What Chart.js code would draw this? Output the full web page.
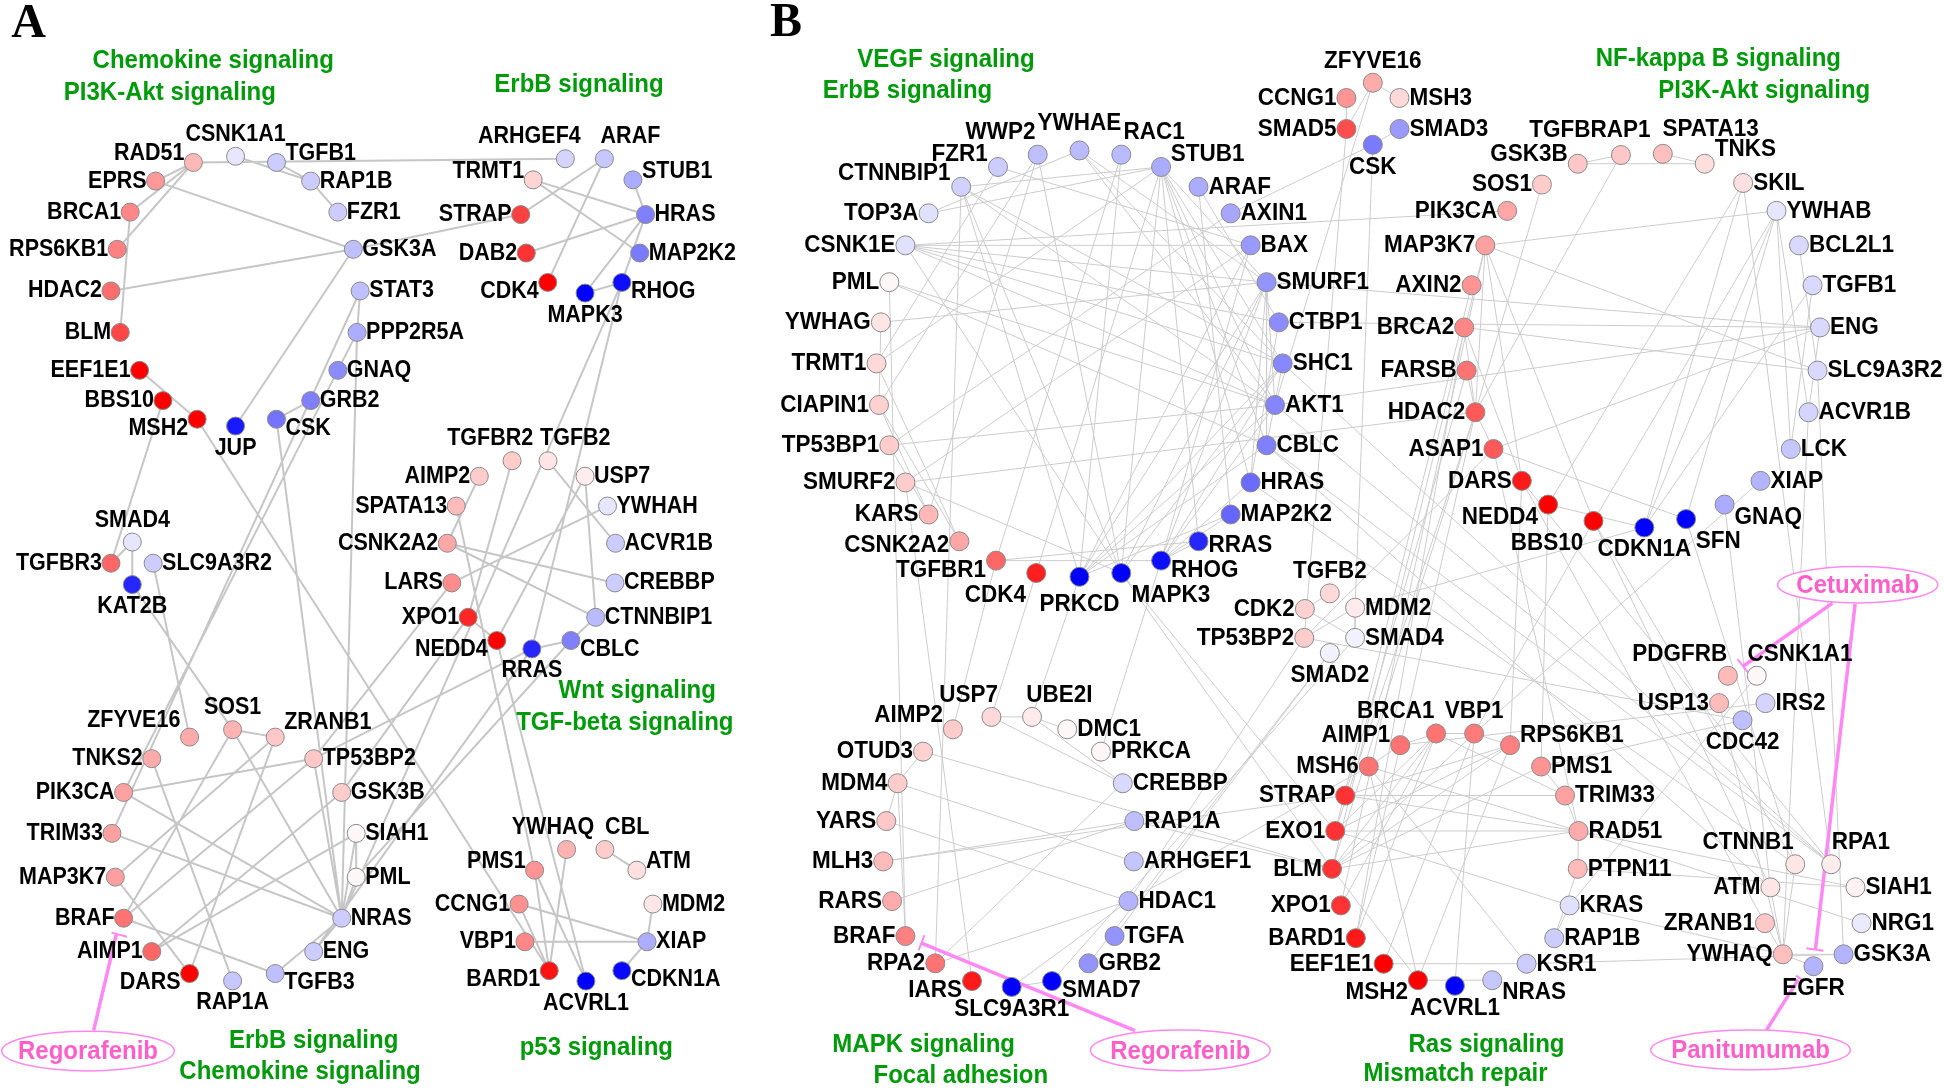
<!DOCTYPE html>
<html>
<head>
<meta charset="utf-8">
<title>Networks A and B</title>
<script src="https://cdn.jsdelivr.net/npm/chart.js@4/dist/chart.umd.min.js"></script>
<style>
	html, body { margin: 0; padding: 0; background: #fff; }
	#chart { display: block; }
</style>
</head>
<body>
<canvas id="chart" width="1944" height="1089"></canvas>
<script>
// Panel A: node names, positions, tone (-1 blue .. 1 red), label side.
var aNames = [
	'RAD51', 'CSNK1A1', 'TGFB1', 'EPRS', 'RAP1B', 'BRCA1', 'FZR1', 'RPS6KB1', 'GSK3A', 'HDAC2',
	'STAT3', 'BLM', 'PPP2R5A', 'EEF1E1', 'GNAQ', 'BBS10', 'GRB2', 'MSH2', 'JUP', 'CSK',
	'ARHGEF4', 'ARAF', 'TRMT1', 'STUB1', 'STRAP', 'HRAS', 'DAB2', 'MAP2K2', 'CDK4', 'RHOG',
	'MAPK3', 'TGFBR2', 'TGFB2', 'AIMP2', 'USP7', 'SPATA13', 'YWHAH', 'CSNK2A2', 'ACVR1B', 'SMAD4',
	'TGFBR3', 'SLC9A3R2', 'KAT2B', 'LARS', 'CREBBP', 'XPO1', 'CTNNBIP1', 'NEDD4', 'CBLC', 'RRAS',
	'ZFYVE16', 'SOS1', 'ZRANB1', 'TNKS2', 'TP53BP2', 'PIK3CA', 'GSK3B', 'TRIM33', 'SIAH1', 'MAP3K7',
	'PML', 'BRAF', 'NRAS', 'AIMP1', 'ENG', 'DARS', 'RAP1A', 'TGFB3', 'PMS1', 'YWHAQ',
	'CBL', 'ATM', 'CCNG1', 'MDM2', 'VBP1', 'XIAP', 'BARD1', 'CDKN1A', 'ACVRL1'
];
var aX = [
	156, 190, 223, 125.5, 250.6, 105, 272.5, 94.6, 285, 89.5,
	290.5, 97, 288, 112.6, 272.5, 131.4, 250.6, 159, 190, 223,
	456, 487.5, 430, 510.5, 420, 520.7, 424.5, 516, 441.8, 501.6,
	471.9, 413, 442, 386.6, 471.9, 368, 490, 360.8, 496.5, 106.7,
	89.5, 123.5, 106.7, 364.4, 496, 377.6, 480.5, 400.7, 460.5, 429,
	152.9, 187.6, 222, 122.4, 253, 99.7, 275.6, 90.3, 287.3, 93,
	287.3, 99.7, 275.6, 122.4, 253, 152.9, 187.6, 222, 431.2, 457,
	487.9, 513.7, 418.7, 526.6, 423.4, 521.9, 443, 501.6, 472.6
];
var aY = [
	131, 126, 131, 146, 146, 171, 171, 201, 201, 234.6,
	234.6, 268, 268, 298.6, 298.6, 323, 323, 338, 343.5, 338,
	128, 128, 145, 145, 173, 173, 204, 204, 227.7, 227.7,
	236.3, 371.5, 371.5, 384, 384, 408, 408, 438, 438, 437,
	454.1, 454.1, 471.3, 470, 470, 497.7, 497.7, 516.4, 516.4, 523.2,
	594.3, 588.3, 594.3, 611.7, 611.7, 638.9, 638.9, 671.9, 671.9, 707.2,
	707.2, 740.3, 740.3, 767.2, 767.2, 784.9, 790.8, 784.9, 701.6, 684.9,
	684.9, 701.6, 728.9, 728.9, 759.3, 759.3, 782.6, 782.6, 791
];
var aTone = [
	0.28, -0.1, -0.2, 0.4, -0.2, 0.47, -0.2, 0.5, -0.25, 0.57,
	-0.25, 0.72, -0.32, 1, -0.45, 1, -0.5, 1, -0.9, -0.55,
	-0.17, -0.22, 0.17, -0.33, 0.75, -0.5, 0.8, -0.52, 1, -0.95,
	-1, 0.2, 0.1, 0.2, 0.07, 0.27, -0.1, 0.35, -0.2, -0.1,
	0.6, -0.2, -0.85, 0.45, -0.2, 0.85, -0.27, 1, -0.5, -0.85,
	0.33, 0.3, 0.22, 0.33, 0.22, 0.37, 0.2, 0.37, 0.03, 0.38,
	0.03, 0.55, -0.2, 0.6, -0.2, 1, -0.22, -0.25, 0.42, 0.3,
	0.2, 0.12, 0.43, 0.1, 0.47, -0.32, 0.93, -0.97, -1
];
var aSide = [
	'l', 't', 'r', 'l', 'r', 'l', 'r', 'l', 'r', 'l',
	'r', 'l', 'r', 'l', 'r', 'l', 'r', 'l', 'b', 'r',
	't', 't', 'l', 'r', 'l', 'r', 'l', 'r', 'l', 'r',
	'b', 't', 't', 'l', 'r', 'l', 'r', 'l', 'r', 't',
	'l', 'r', 'b', 'l', 'r', 'l', 'r', 'l', 'r', 'b',
	't', 't', 'r', 'l', 'r', 'l', 'r', 'l', 'r', 'l',
	'r', 'l', 'r', 'l', 'r', 'l', 'b', 'r', 'l', 't',
	't', 'r', 'l', 'r', 'l', 'r', 'l', 'r', 'b'
];
var aNudge = {
	RAD51: [0, -7], TGFB1: [0, -7], MSH2: [0, 7.5], CSK: [0, 7.5], ARHGEF4: [-29, 0], ARAF: [21, 0],
	TRMT1: [0, -7], STUB1: [0, -7], CDK4: [0, 7], RHOG: [0, 7], TGFBR2: [-17.6, 0], TGFB2: [22, 0],
	NEDD4: [0, 7.5], CBLC: [0, 7.5], ZFYVE16: [-45, 4], ZRANB1: [0, -11.5], DARS: [0, 7], TGFB3: [0, 7],
	PMS1: [0, -7], YWHAQ: [-11, 0], CBL: [18, 0], ATM: [0, -7], BARD1: [0, 7.5], CDKN1A: [0, 7.5]
};
var aEdges = [
	'RAD51|ARHGEF4', 'CSNK1A1|RAP1B', 'TGFB1|RAP1B', 'RAP1B|FZR1', 'RAD51|EPRS', 'RAD51|BRCA1', 'RAD51|RPS6KB1', 'BRCA1|BLM',
	'EPRS|GSK3A', 'HDAC2|GSK3A', 'STRAP|GSK3A', 'GSK3A|JUP', 'TRMT1|HRAS', 'TRMT1|MAP2K2', 'DAB2|HRAS', 'STRAP|ARAF',
	'ARAF|CDK4', 'STUB1|HRAS', 'HRAS|MAPK3', 'HRAS|RHOG', 'MAPK3|RHOG', 'RHOG|NRAS', 'RHOG|RRAS', 'STAT3|TRIM33',
	'PPP2R5A|PIK3CA', 'STAT3|PPP2R5A', 'PPP2R5A|NRAS', 'GRB2|CSK', 'CSK|NRAS', 'EEF1E1|MSH2', 'MSH2|BARD1', 'BBS10|TGFBR3',
	'SMAD4|KAT2B', 'SMAD4|TGFBR3', 'SLC9A3R2|ZFYVE16', 'KAT2B|SOS1', 'SOS1|ZRANB1', 'SOS1|NRAS', 'SOS1|BRAF', 'ZRANB1|MAP3K7',
	'ZRANB1|DARS', 'TNKS2|RAP1A', 'PIK3CA|TP53BP2', 'PIK3CA|NRAS', 'TRIM33|NRAS', 'MAP3K7|DARS', 'BRAF|TGFB3', 'TP53BP2|BRAF',
	'TP53BP2|NRAS', 'GSK3B|AIMP1', 'SIAH1|AIMP1', 'SIAH1|NRAS', 'SIAH1|PML', 'NRAS|ENG', 'NRAS|TGFB3', 'PML|NRAS',
	'SPATA13|PMS1', 'AIMP2|CSNK2A2', 'CSNK2A2|CREBBP', 'CSNK2A2|CTNNBIP1', 'LARS|YWHAH', 'XPO1|NEDD4', 'RRAS|CBLC', 'CBLC|CTNNBIP1',
	'CTNNBIP1|USP7', 'TGFB2|ACVR1B', 'TGFBR2|XPO1', 'NEDD4|USP7', 'CBLC|PML', 'RRAS|ENG', 'RRAS|TP53BP2', 'XPO1|GSK3B',
	'LARS|TP53BP2', 'PMS1|BARD1', 'YWHAQ|BARD1', 'PMS1|ACVRL1', 'CCNG1|XIAP', 'CCNG1|BARD1', 'VBP1|XIAP', 'CBL|ATM',
	'XIAP|MDM2', 'XIAP|CDKN1A', 'NEDD4|ACVRL1'
];

// Panel B, same layout as panel A.
var bNames = [
	'CCNG1', 'SMAD5', 'WWP2', 'YWHAE', 'RAC1', 'FZR1', 'STUB1', 'CTNNBIP1', 'ARAF', 'TOP3A',
	'AXIN1', 'CSNK1E', 'BAX', 'PML', 'SMURF1', 'YWHAG', 'CTBP1', 'TRMT1', 'SHC1', 'CIAPIN1',
	'AKT1', 'TP53BP1', 'CBLC', 'SMURF2', 'HRAS', 'KARS', 'MAP2K2', 'CSNK2A2', 'RRAS', 'TGFBR1',
	'RHOG', 'CDK4', 'MAPK3', 'PRKCD', 'TGFB2', 'ZFYVE16', 'MSH3', 'SMAD3', 'CSK', 'GSK3B',
	'TGFBRAP1', 'SPATA13', 'TNKS', 'SOS1', 'SKIL', 'PIK3CA', 'YWHAB', 'MAP3K7', 'BCL2L1', 'AXIN2',
	'TGFB1', 'BRCA2', 'ENG', 'FARSB', 'SLC9A3R2', 'HDAC2', 'ACVR1B', 'ASAP1', 'LCK', 'DARS',
	'XIAP', 'NEDD4', 'GNAQ', 'BBS10', 'CDKN1A', 'SFN', 'CDK2', 'MDM2', 'TP53BP2', 'SMAD4',
	'SMAD2', 'USP7', 'UBE2I', 'AIMP2', 'DMC1', 'OTUD3', 'PRKCA', 'MDM4', 'CREBBP', 'YARS',
	'RAP1A', 'MLH3', 'ARHGEF1', 'RARS', 'HDAC1', 'BRAF', 'TGFA', 'RPA2', 'GRB2', 'IARS',
	'SMAD7', 'SLC9A3R1', 'STRAP', 'EXO1', 'BLM', 'XPO1', 'BARD1', 'EEF1E1', 'MSH2', 'ACVRL1',
	'NRAS', 'KSR1', 'RAP1B', 'KRAS', 'PTPN11', 'RAD51', 'TRIM33', 'PMS1', 'RPS6KB1', 'VBP1',
	'BRCA1', 'AIMP1', 'MSH6', 'PDGFRB', 'CSNK1A1', 'USP13', 'IRS2', 'CDC42', 'CTNNB1', 'RPA1',
	'ATM', 'SIAH1', 'ZRANB1', 'NRG1', 'YWHAQ', 'GSK3A', 'EGFR'
];
var bX = [
	1086, 1086, 837, 870.7, 904.4, 805, 936.5, 775.3, 966.7, 749,
	992.6, 730.3, 1008.7, 717.3, 1021.6, 710.5, 1031.5, 707, 1034.6, 709,
	1028.4, 717.3, 1021.6, 730.3, 1008.7, 749, 992.6, 773.8, 966.7, 803.4,
	936.5, 835.8, 904.4, 870.7, 1072.6, 1107.3, 1128.8, 1128.8, 1107.3, 1272.6,
	1307.4, 1341.2, 1375, 1243.7, 1406, 1215.7, 1432.9, 1198, 1451, 1187,
	1462, 1181, 1468, 1183, 1466, 1190, 1458.7, 1204.6, 1444.4, 1227.5,
	1420, 1248.7, 1391, 1285.3, 1326.3, 1360, 1052.5, 1093, 1052, 1093,
	1072.6, 799.7, 832.4, 768.6, 860.8, 744.5, 888, 724, 905.6, 714.9,
	914.9, 712.4, 914.5, 719.5, 910.2, 730.3, 899, 754.4, 878, 784,
	848.5, 816, 1085, 1077, 1074.4, 1081.5, 1093.6, 1116, 1143.7, 1173.5,
	1203.6, 1231.3, 1253.6, 1266, 1272.6, 1273.2, 1262.3, 1243, 1218, 1189,
	1158.3, 1129.4, 1104, 1393.7, 1417, 1386.6, 1424, 1405.5, 1448, 1477,
	1428, 1496.6, 1423.6, 1501.5, 1438, 1487, 1462.7
];
var bY = [
	79, 104, 124.7, 121.3, 124.7, 134.6, 134.6, 150.6, 150.6, 172,
	172, 197.8, 197.8, 227.5, 227.5, 259.9, 259.9, 293, 293, 326.5,
	326.5, 359, 359, 389, 389, 414.8, 414.8, 436.4, 436.4, 452,
	452, 462, 462, 465, 478.4, 66.7, 79, 104, 116.7, 132,
	125, 124, 132, 148.8, 147.5, 170, 170, 197.8, 197.8, 230,
	230, 264, 264, 298.8, 298.8, 332.4, 332.4, 362, 362, 387.7,
	387.7, 406.8, 406.8, 420, 425.3, 418.5, 491, 490, 514.3, 514.3,
	526.5, 578, 578, 588, 588, 606, 606, 631.5, 631.5, 662,
	662, 694.5, 694.5, 726.5, 726.5, 754.7, 754.7, 776.7, 776.7, 791,
	791, 795.7, 641.4, 670, 700.5, 730, 756.4, 777, 790.3, 794.8,
	790.3, 777, 756.4, 730, 700.5, 670, 641.4, 618, 600.8, 591.4,
	591.4, 600.8, 618, 544.8, 544.8, 566.9, 566.9, 580.7, 696.8, 696.8,
	715.4, 715.4, 744.3, 744.3, 769.4, 769.4, 779
];
var bTone = [
	0.42, 0.7, -0.25, -0.27, -0.27, -0.2, -0.33, -0.18, -0.33, -0.12,
	-0.35, -0.12, -0.4, 0.03, -0.42, 0.1, -0.45, 0.15, -0.47, 0.18,
	-0.48, 0.2, -0.5, 0.2, -0.58, 0.28, -0.6, 0.35, -0.85, 0.6,
	-0.95, 0.88, -1, -1, 0.15, 0.33, 0.15, -0.4, -0.52, 0.22,
	0.22, 0.25, 0.13, 0.2, 0.12, 0.35, -0.1, 0.37, -0.15, 0.42,
	-0.15, 0.47, -0.15, 0.55, -0.15, 0.65, -0.17, 0.65, -0.22, 0.9,
	-0.3, 1, -0.33, 1, -1, -1, 0.18, 0.08, 0.2, -0.05,
	-0.05, 0.15, 0.08, 0.2, 0.03, 0.18, 0.03, 0.2, -0.15, 0.22,
	-0.25, 0.27, -0.23, 0.33, -0.3, 0.5, -0.42, 0.55, -0.42, 0.9,
	-1, -1, 0.8, 0.8, 0.8, 0.8, 0.9, 1, 1, -1,
	-0.22, -0.2, -0.2, -0.12, 0.27, 0.33, 0.37, 0.42, 0.5, 0.52,
	0.55, 0.55, 0.55, 0.27, 0.03, 0.27, -0.17, -0.25, 0.1, 0.07,
	0.1, 0.05, 0.22, -0.08, 0.25, -0.3, -0.3
];
var bSide = [
	'l', 'l', 't', 't', 't', 't', 't', 't', 'r', 'l',
	'r', 'l', 'r', 'l', 'r', 'l', 'r', 'l', 'r', 'l',
	'r', 'l', 'r', 'l', 'r', 'l', 'r', 'l', 'r', 'l',
	'r', 'b', 'b', 'b', 't', 't', 'r', 'r', 'b', 'l',
	't', 't', 'r', 'l', 'r', 'l', 'r', 'l', 'r', 'l',
	'r', 'l', 'r', 'l', 'r', 'l', 'r', 'l', 'r', 'l',
	'r', 'l', 'r', 'b', 'b', 'b', 'l', 'r', 'l', 'r',
	'b', 't', 't', 'l', 'r', 'l', 'r', 'l', 'r', 'l',
	'r', 'l', 'r', 'l', 'r', 'l', 'r', 'l', 'r', 'l',
	'r', 'b', 'l', 'l', 'l', 'l', 'l', 'l', 'l', 'b',
	'r', 'r', 'r', 'r', 'r', 'r', 'r', 'r', 'r', 't',
	't', 'l', 'l', 't', 't', 'l', 'r', 'b', 't', 't',
	'l', 'r', 'l', 'r', 'l', 'r', 'b'
];
var bNudge = {
	WWP2: [-30, 0], YWHAE: [0, -4], RAC1: [26.5, 0], FZR1: [-31, 7.5], STUB1: [37.6, 7.5], CTNNBIP1: [-54, 7],
	CSNK2A2: [0, 3.5], RRAS: [0, 3.5], TGFBR1: [0, 8], RHOG: [0, 8], CDK4: [-33, 0], MAPK3: [40, 0], PRKCD: [0, 4.5],
	GSK3B: [0, -8], TGFBRAP1: [-25, -2], SPATA13: [38.5, -2], TNKS: [0, -12], NEDD4: [0, 10], GNAQ: [0, 10],
	BBS10: [-37.6, 0], SFN: [26, 0], USP7: [-18.5, 0], UBE2I: [22, 0], AIMP2: [0, -11], IARS: [0, 7], SMAD7: [0, 7],
	MSH2: [0, 10], NRAS: [0, 10], RPS6KB1: [0, -8], BRCA1: [-32.6, 0], AIMP1: [0, -8], PDGFRB: [-38.8, 0],
	CSNK1A1: [34.8, 0], CTNNB1: [-38, 0], RPA1: [24, 0]
};
var bEdges = [
	'CTNNBIP1|STUB1', 'CTNNBIP1|SHC1', 'CTNNBIP1|AKT1', 'CTNNBIP1|PRKCD', 'CTNNBIP1|MAPK3', 'CTNNBIP1|RPA2', 'FZR1|TRMT1', 'FZR1|BAX',
	'WWP2|CIAPIN1', 'WWP2|KARS', 'WWP2|MAPK3', 'TOP3A|YWHAE', 'TOP3A|STUB1', 'TRMT1|STUB1', 'CSNK1E|PIK3CA', 'CSNK1E|BAX',
	'CSNK1E|SMURF1', 'CSNK1E|SHC1', 'CSNK1E|AKT1', 'CSNK1E|CTBP1', 'CSNK1E|MAPK3', 'PML|CBLC', 'PML|AKT1', 'PML|BRAF',
	'YWHAG|SMURF1', 'YWHAG|CIAPIN1', 'CIAPIN1|CSNK2A2', 'CIAPIN1|KARS', 'TRMT1|CSNK2A2', 'TP53BP1|AXIN1', 'TP53BP1|AKT1', 'TP53BP1|KARS',
	'SMURF2|BAX', 'SMURF2|HDAC2', 'SMURF2|MAPK3', 'SMURF2|IARS', 'TGFBR1|RRAS', 'TGFBR1|RHOG', 'RAC1|TGFBR1', 'RAC1|PRKCD',
	'STUB1|CDK4', 'STUB1|MAPK3', 'STUB1|CBLC', 'STUB1|AKT1', 'STUB1|SHC1', 'STUB1|SMURF1', 'STUB1|HRAS', 'STUB1|RRAS',
	'YWHAE|AKT1', 'YWHAE|SHC1', 'YWHAE|SMURF1', 'ARAF|CTBP1', 'ARAF|MAP2K2', 'BAX|RHOG', 'BAX|PRKCD', 'SMURF1|PRKCD',
	'SMURF1|MAPK3', 'SMURF1|RHOG', 'SMURF1|HRAS', 'SMURF1|AKT1', 'SMURF1|CBLC', 'SHC1|PRKCD', 'SHC1|MAPK3', 'SHC1|RHOG',
	'SHC1|CBLC', 'AKT1|PRKCD', 'AKT1|RHOG', 'CBLC|PRKCD', 'CTBP1|HRAS', 'MAP2K2|PRKCD', 'HRAS|RHOG', 'RRAS|RHOG',
	'MAP2K2|RHOG', 'CCNG1|SMAD5', 'ZFYVE16|SMAD5', 'ZFYVE16|MSH3', 'CSK|SMAD3', 'CSK|AXIN1', 'CSK|MDM2', 'ZFYVE16|AKT1',
	'SMAD5|TP53BP2', 'GSK3B|TNKS', 'GSK3B|TGFBRAP1', 'SPATA13|TNKS', 'TGFBRAP1|HDAC2', 'SOS1|HDAC2', 'SKIL|NEDD4', 'SKIL|CDKN1A',
	'YWHAB|MAP3K7', 'YWHAB|BBS10', 'YWHAB|SFN', 'YWHAB|CDKN1A', 'YWHAB|ACVR1B', 'YWHAB|LCK', 'MAP3K7|SLC9A3R2', 'BRCA2|SLC9A3R2',
	'BCL2L1|SLC9A3R2', 'TGFB1|LCK', 'TGFB1|CDKN1A', 'ENG|ACVR1B', 'ENG|AKT1', 'ENG|ASAP1', 'ENG|SMURF1', 'ENG|CTBP1',
	'SLC9A3R2|GSK3A', 'ACVR1B|YWHAQ', 'XIAP|VBP1', 'GNAQ|ATM', 'MAP3K7|DARS', 'MAP3K7|BBS10', 'MAP3K7|BLM', 'MAP3K7|HDAC2',
	'MAP3K7|XPO1', 'AXIN2|EXO1', 'BRCA2|DARS', 'BRCA2|HDAC2', 'BRCA2|BARD1', 'FARSB|HDAC2', 'FARSB|STRAP', 'HDAC2|ASAP1',
	'HDAC2|BLM', 'HDAC2|AIMP1', 'HDAC2|EXO1', 'ASAP1|SFN', 'ASAP1|TP53BP2', 'ASAP1|RAD51', 'NEDD4|CDKN1A', 'NEDD4|PMS1',
	'BBS10|VBP1', 'DARS|RPS6KB1', 'CDKN1A|MDM2', 'SHC1|RPA1', 'AKT1|RPA1', 'CBLC|RPA1', 'CBLC|ATM', 'HRAS|CTNNB1',
	'USP7|UBE2I', 'UBE2I|DMC1', 'USP7|CREBBP', 'UBE2I|CREBBP', 'UBE2I|PRKCD', 'OTUD3|BLM', 'MDM4|ARHGEF1', 'YARS|HDAC1',
	'MLH3|RAP1A', 'MLH3|STRAP', 'RARS|RAP1A', 'MDM4|OTUD3', 'MDM4|YARS', 'MDM4|BRAF', 'AIMP2|TGFBR1', 'USP7|CDK4',
	'PRKCA|RHOG', 'RAP1A|BLM', 'CREBBP|RPA2', 'HDAC1|RPA2', 'HDAC1|MSH6', 'TGFA|SMAD2', 'GRB2|SMAD2', 'SLC9A3R1|HDAC1',
	'SLC9A3R1|SMAD7', 'SMAD7|SMAD4', 'MAPK3|BLM', 'MAPK3|EXO1', 'CDK2|TGFB2', 'CDK2|SMAD4', 'MDM2|SMAD4', 'TP53BP2|MDM2',
	'TP53BP2|HDAC1', 'BRCA1|VBP1', 'VBP1|RPS6KB1', 'MSH6|AIMP1', 'AIMP1|BRCA1', 'MSH6|RAD51', 'RAD51|BLM', 'RAD51|EXO1',
	'RAD51|PTPN11', 'RAD51|TRIM33', 'PMS1|TRIM33', 'TRIM33|BRCA1', 'BRCA1|XPO1', 'BRCA1|BLM', 'BRCA1|EXO1', 'BRCA1|BARD1',
	'VBP1|BLM', 'VBP1|EEF1E1', 'RPS6KB1|EXO1', 'RPS6KB1|BLM', 'RPS6KB1|STRAP', 'RPS6KB1|MSH2', 'PMS1|BLM', 'TRIM33|STRAP',
	'RAD51|STRAP', 'KRAS|RAP1B', 'KRAS|EXO1', 'RAP1B|PTPN11', 'KSR1|GSK3A', 'KSR1|EEF1E1', 'MSH2|NRAS', 'ACVRL1|VBP1',
	'KSR1|MSH6', 'MSH2|MSH6', 'MSH2|BLM', 'AIMP1|BARD1', 'IRS2|AIMP1', 'CDC42|PMS1', 'CSNK1A1|KRAS', 'USP13|YWHAQ',
	'ZRANB1|YWHAQ', 'ATM|YWHAQ', 'CTNNB1|YWHAQ', 'YWHAQ|EGFR', 'YWHAQ|KRAS', 'NRG1|RAD51', 'SIAH1|RAD51', 'SIAH1|PTPN11',
	'YWHAQ|GSK3A', 'RPA1|DARS', 'CTNNB1|SFN', 'ZRANB1|DARS', 'CTNNB1|BBS10', 'ATM|BBS10', 'CDC42|TP53BP2', 'RPA1|SKIL'
];

var panelLetters = ['A', 'B'];
var letterX = [23, 634];
var letterY = [20, 19];

var pathways = [
	'Chemokine signaling', 'PI3K-Akt signaling', 'ErbB signaling', 'Wnt signaling', 'TGF-beta signaling',
	'ErbB signaling', 'Chemokine signaling', 'p53 signaling', 'VEGF signaling', 'ErbB signaling',
	'NF-kappa B signaling', 'PI3K-Akt signaling', 'MAPK signaling', 'Focal adhesion', 'Ras signaling', 'Mismatch repair'
];
var pathwayX = [172, 137, 467, 514, 504, 253, 242, 481, 763, 732, 1386, 1423, 745, 775, 1199, 1174];
var pathwayY = [49, 75, 68, 557, 583, 839, 864, 845, 48, 73, 47, 73, 842, 867, 842, 866];

var drugs = ['Regorafenib', 'Regorafenib', 'Cetuximab', 'Panitumumab'];
var drugX = [71, 952, 1498.4, 1412];
var drugY = [847.4, 846.8, 471.4, 846.5];
var drugRx = [69.6, 72.5, 64.6, 80.5];
var drugRy = [16, 16.4, 14.7, 16];

// Inhibition lines: pairs of points, then the short bar at the arrow end.
var drugLinks = [
	[75.5, 831, 93.8, 753.3],
	[915.5, 831, 743.2, 760.4],
	[1478, 486.3, 1406, 537.2],
	[1496.3, 487, 1464.3, 765.4],
	[1424.8, 830.4, 1450.3, 790]
];
var drugBars = [
	[90, 751.9, 102.4, 755.3],
	[741, 766, 745.7, 754],
	[1401.5, 531.5, 1410, 542.3],
	[1457, 764.6, 1470.8, 766.6],
	[1448.7, 786.6, 1455, 791]
];

var SANS = '"Liberation Sans", Arial, sans-serif';
var SERIF = '"Liberation Serif", "Times New Roman", serif';

function toneColor(t) {
	var v = Math.round(255 * (1 - Math.abs(t)));
	return t >= 0 ? 'rgb(255,' + v + ',' + v + ')' : 'rgb(' + v + ',' + v + ',255)';
}

function nodePoints(xs, ys) {
	return xs.map(function (x, i) {
		return { x: x, y: ys[i] };
	});
}

function edgePoints(edges, names, xs, ys) {
	var pts = [];
	edges.forEach(function (e) {
		var p = e.split('|');
		var i = names.indexOf(p[0]);
		var j = names.indexOf(p[1]);
		if (i < 0 || j < 0) {
			console.warn('unknown edge ' + e);
			return;
		}
		pts.push({ x: xs[i], y: ys[i] }, { x: xs[j], y: ys[j] }, { x: NaN, y: NaN });
	});
	return pts;
}

function segmentPoints(list) {
	var pts = [];
	list.forEach(function (s) {
		pts.push({ x: s[0], y: s[1] }, { x: s[2], y: s[3] }, { x: NaN, y: NaN });
	});
	return pts;
}

function edgeDataset(data, width, color) {
	return {
		data: data,
		showLine: true,
		spanGaps: false,
		borderColor: color,
		borderWidth: width,
		pointRadius: 0,
		order: 5
	};
}

function nodeDataset(xs, ys, tones, radius) {
	return {
		data: nodePoints(xs, ys),
		showLine: false,
		pointRadius: radius,
		pointHoverRadius: radius,
		pointBorderWidth: 1,
		pointBorderColor: '#8a8a8a',
		pointBackgroundColor: tones.map(toneColor),
		order: 1
	};
}

// Reference glyphs are a little taller than Liberation at the same width.
function tallText(ctx, text, x, y) {
	ctx.save();
	ctx.translate(x, y);
	ctx.scale(1, 1.1);
	ctx.fillText(text, 0, 0);
	ctx.restore();
}

function drawNodeLabels(ctx, sx, sy, names, xs, ys, sides, nudge, size, radius) {
	ctx.font = 'bold ' + size + 'px ' + SANS;
	ctx.textBaseline = 'middle';
	ctx.fillStyle = '#000';
	names.forEach(function (name, i) {
		var n = nudge[name] || [0, 0];
		var px = sx.getPixelForValue(xs[i] + n[0]);
		var py = sy.getPixelForValue(ys[i] + n[1]);
		var side = sides[i];
		if (side === 'l') {
			ctx.textAlign = 'right';
			tallText(ctx, name, px - radius, py);
		} else if (side === 'r') {
			ctx.textAlign = 'left';
			tallText(ctx, name, px + radius, py);
		} else {
			ctx.textAlign = 'center';
			tallText(ctx, name, px, py + (side === 't' ? -22 : 22));
		}
	});
}

var annotationPlugin = {
	id: 'annotations',
	afterDatasetsDraw: function (chart) {
		var ctx = chart.ctx;
		var sx = chart.scales.x;
		var sy = chart.scales.y;
		ctx.save();

		drawNodeLabels(ctx, sx, sy, aNames, aX, aY, aSide, aNudge, 21.5, 9);
		drawNodeLabels(ctx, sx, sy, bNames, bX, bY, bSide, bNudge, 22.5, 10);

		ctx.textAlign = 'center';
		ctx.textBaseline = 'middle';
		ctx.fillStyle = '#009a0a';
		ctx.font = 'bold 24px ' + SANS;
		pathways.forEach(function (p, i) {
			tallText(ctx, p, sx.getPixelForValue(pathwayX[i]), sy.getPixelForValue(pathwayY[i]));
		});

		ctx.fillStyle = '#000';
		ctx.font = 'bold 48px ' + SERIF;
		panelLetters.forEach(function (p, i) {
			ctx.fillText(p, sx.getPixelForValue(letterX[i]), sy.getPixelForValue(letterY[i]));
		});

		ctx.font = 'bold 24px ' + SANS;
		drugs.forEach(function (d, i) {
			var cx = sx.getPixelForValue(drugX[i]);
			var cy = sy.getPixelForValue(drugY[i]);
			ctx.beginPath();
			ctx.ellipse(cx, cy, sx.getPixelForValue(drugRx[i]) - sx.getPixelForValue(0),
				Math.abs(sy.getPixelForValue(drugRy[i]) - sy.getPixelForValue(0)), 0, 0, Math.PI * 2);
			ctx.strokeStyle = '#ff88ee';
			ctx.lineWidth = 1.5;
			ctx.fillStyle = '#fff';
			ctx.fill();
			ctx.stroke();
			ctx.fillStyle = '#ff5fc8';
			tallText(ctx, d, cx, cy + 1);
		});
		ctx.restore();
	}
};

new Chart(document.getElementById('chart').getContext('2d'), {
	type: 'scatter',
	data: {
		datasets: [
			edgeDataset(edgePoints(aEdges, aNames, aX, aY), 2, '#c6c6c6'),
			edgeDataset(edgePoints(bEdges, bNames, bX, bY), 1, '#cccccc'),
			nodeDataset(aX, aY, aTone, 9),
			nodeDataset(bX, bY, bTone, 9.5),
			Object.assign(edgeDataset(segmentPoints(drugLinks), 3.5, '#ff88f4'), { order: 3 }),
			Object.assign(edgeDataset(segmentPoints(drugBars), 2, '#ff88f4'), { order: 3 })
		]
	},
	options: {
		responsive: false,
		animation: false,
		layout: { padding: 0, autoPadding: false },
		plugins: {
			legend: { display: false },
			tooltip: { enabled: false }
		},
		scales: {
			x: { type: 'linear', display: false, min: 0, max: 1568 },
			y: { type: 'linear', display: false, min: 0, max: 878, reverse: true }
		}
	},
	plugins: [annotationPlugin]
});
</script>
</body>
</html>
